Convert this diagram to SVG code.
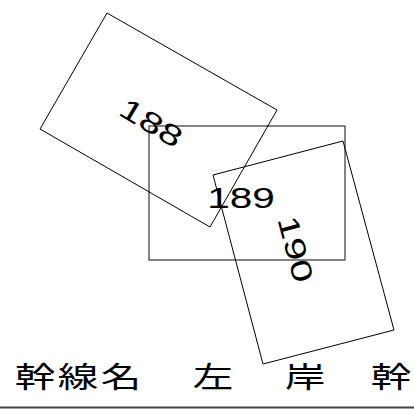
<svg xmlns="http://www.w3.org/2000/svg" width="414" height="410" viewBox="0 0 414 410">
<style>
.lot{fill:none;stroke:#000;stroke-width:1}
.frame{fill:none;stroke:#444;stroke-width:1.3}
.num{font-family:"Liberation Sans",Arial,sans-serif;font-size:29px;fill:#000;text-anchor:middle}
.jp{font-family:"Noto Sans CJK JP","Noto Sans CJK SC",sans-serif;font-size:29px;fill:#000;text-anchor:middle}
</style>
<rect width="414" height="410" fill="#fff"/>
<g id="lot-189">
<rect class="frame" x="149" y="126" width="196" height="134"/>
<text class="num" transform="translate(241,208) scale(1.4,1)">189</text>
</g>
<g id="lot-188">
<polygon class="lot" points="107,13 277,110 210,227 40,129"/>
<text class="num" transform="translate(151.5,122.5) rotate(31) scale(1.4,1)" y="10.4">188</text>
</g>
<g id="lot-190">
<polygon class="lot" points="213,175 343,141 394,330 263,364"/>
<text class="num" transform="translate(296,249) rotate(75) scale(1.4,1)" y="10.4">190</text>
</g>
<g id="title">
<text class="jp" transform="translate(35,388) scale(1.4,1)">幹</text>
<text class="jp" transform="translate(78,388) scale(1.4,1)">線</text>
<text class="jp" transform="translate(121,388) scale(1.4,1)">名</text>
<text class="jp" transform="translate(213,388) scale(1.4,1)">左</text>
<text class="jp" transform="translate(305,388) scale(1.4,1)">岸</text>
<text class="jp" transform="translate(391,388) scale(1.4,1)">幹</text>
</g>
<g id="connectors">
<line x1="0" y1="407.5" x2="414" y2="407.5" stroke="#444" stroke-width="1.8"/>
</g>
</svg>
